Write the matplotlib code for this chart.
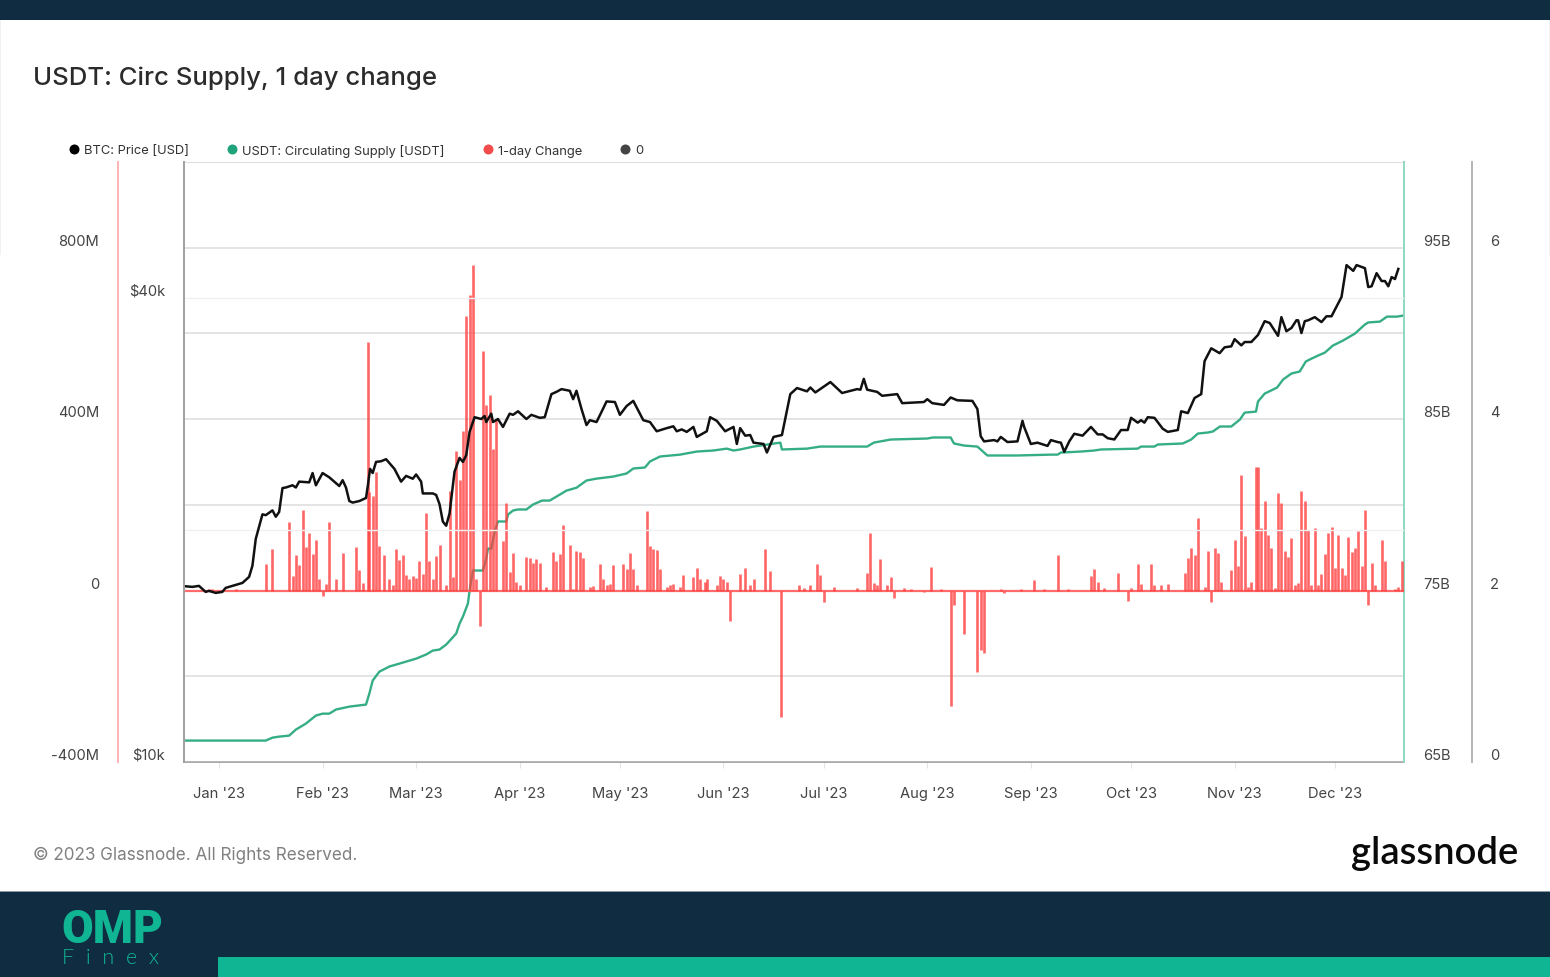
import matplotlib
matplotlib.use('Agg')
import matplotlib.pyplot as plt
from matplotlib.lines import Line2D
from matplotlib.patches import Rectangle
import numpy as np

W, H = 1550, 978

# all days are counted from 1 Jan 2023
month_days = [0, 31, 59, 90, 120, 151, 181, 212, 243, 273, 304, 334]
month_labels = ["Jan '23", "Feb '23", "Mar '23", "Apr '23", "May '23", "Jun '23",
                "Jul '23", "Aug '23", "Sep '23", "Oct '23", "Nov '23", "Dec '23"]

# BTC price, thousands of USD
btc_days = [-10, -8, -6, -4, -3, -1, 1, 2, 4, 7, 9, 10, 11, 13, 14, 16, 17, 18, 19, 20, 22, 23, 24, 27, 28, 29, 31, 33, 36, 37,
            38, 39, 40, 42, 44, 44.6, 45.2, 46, 47, 48.5, 50, 52.5, 54.5, 56, 58, 59, 60.5, 61, 64, 65, 66, 67, 68, 69, 70.5, 72, 73, 74, 75, 76.5,
            78.5, 79.5, 80, 81.5, 82, 83.5, 85, 87, 88, 89.5, 92, 93.5, 96, 97.5, 99.5, 101, 102.5, 105, 106, 107, 108.5, 110, 111, 113, 114.5, 116, 118.5, 120, 122, 124,
            127, 129, 131, 134, 136, 137, 138.5, 140, 142, 143, 146, 147, 149, 151.5, 154, 155, 156, 157.5, 159, 160, 163, 164, 166, 168.5, 171, 173, 176, 177, 178.5, 183,
            186.5, 191, 192, 193, 194, 197, 198.5, 203, 204.5, 211, 212, 213.5, 217, 219, 221, 225.5, 227, 228, 229, 232, 233, 234, 236, 239, 240.5, 241, 243, 245, 248, 249,
            251, 252, 253, 254.5, 256, 258.5, 261, 263, 264.5, 266, 268, 270, 272, 273, 275, 276, 277, 278, 280, 282.5, 284, 287, 288, 290, 292, 294, 295, 297, 299.5, 301,
            303, 304, 306, 307, 309, 311, 313, 314.5, 317, 318, 319.5, 321, 322.5, 323, 324, 325, 326, 328, 330, 331.5, 333, 336, 337.5, 339.5, 340.5, 343, 344, 345, 346.5, 348,
            349, 350, 351, 352, 353]
btc_price = [16.9, 16.87, 16.92, 16.62, 16.67, 16.57, 16.62, 16.82, 16.92, 17.07, 17.38, 17.97, 19.47, 20.95, 20.9, 21.2, 20.8, 21.1, 22.66, 22.7, 22.85, 22.7, 23.1, 23.05, 23.7, 22.85, 23.7, 23.4, 22.8, 23.2,
             22.7, 21.8, 21.7, 21.8, 22.0, 22.9, 24.0, 23.7, 24.5, 24.55, 24.7, 24.0, 23.1, 23.5, 23.3, 23.6, 23.1, 22.3, 22.3, 22.2, 21.6, 20.5, 20.25, 21.0, 23.8, 24.8, 24.5, 25.0, 26.8, 28.0,
             27.85, 28.1, 27.6, 28.3, 27.6, 27.85, 27.2, 28.3, 28.2, 28.5, 27.85, 28.2, 27.95, 28.0, 30.0, 30.2, 30.45, 30.3, 29.55, 30.3, 28.7, 27.35, 27.75, 27.6, 28.45, 29.35, 29.3, 28.2, 28.95, 29.4,
             27.75, 27.6, 26.85, 27.1, 27.25, 26.85, 27.0, 26.8, 27.2, 26.4, 26.85, 28.0, 27.7, 26.85, 27.2, 25.85, 27.1, 26.5, 26.55, 25.95, 25.85, 25.2, 26.4, 26.55, 30.0, 30.55, 30.25, 30.6, 30.15, 31.1,
             30.1, 30.45, 30.4, 31.4, 30.4, 30.2, 29.85, 30.0, 29.2, 29.3, 29.55, 29.2, 29.05, 29.7, 29.45, 29.4, 28.7, 26.45, 26.05, 26.15, 26.05, 26.4, 26.0, 26.05, 27.7, 27.2, 25.85, 25.95, 25.7, 26.15,
             26.0, 25.95, 25.25, 26.05, 26.65, 26.5, 27.2, 26.6, 26.6, 26.3, 26.2, 26.95, 26.95, 27.95, 27.55, 27.75, 27.55, 28.0, 27.95, 27.05, 26.8, 26.95, 28.5, 28.35, 29.65, 30.0, 33.1, 34.4, 33.9, 34.5,
             34.6, 35.35, 34.7, 35.05, 35.05, 35.8, 37.3, 37.1, 35.7, 37.75, 36.2, 36.55, 37.4, 37.4, 36.0, 37.3, 37.4, 37.75, 37.2, 37.85, 37.85, 40.1, 44.1, 43.35, 44.1, 43.7, 41.3, 41.4, 43.05, 42.05,
             42.05, 41.4, 42.55, 42.3, 43.6]

# USDT circulating supply, billions
usdt_days = [-10.5, 14, 16, 18, 21, 23, 26, 29, 31, 33, 35, 39, 44, 45, 46, 48, 51, 54, 59, 62, 64, 66, 68, 71, 72, 73, 74.5, 75, 76, 79,
             80, 80.5, 81.5, 82.6, 83.5, 86, 86.5, 88, 89.5, 92, 94, 96.7, 99, 101.5, 104, 107, 110, 113, 118, 122, 124, 127.5, 129, 132, 138, 143, 148, 152, 154, 156,
             160, 168, 168.5, 176, 180, 194, 196, 201, 212, 213.7, 219, 220, 223, 227, 230, 239, 249, 251, 252, 258, 262, 264, 275, 276, 280, 281, 288.5, 291, 293, 296,
             297.5, 299.6, 303, 305.6, 307, 310.4, 311, 313, 316.7, 318.5, 321, 323.5, 325.3, 327, 329, 331, 333.4, 336.4, 340, 343, 344, 347.5, 349.6, 352.6, 354.4]
usdt_supply = [66.25, 66.25, 66.42, 66.48, 66.54, 66.89, 67.24, 67.71, 67.82, 67.82, 68.06, 68.23, 68.35, 68.99, 69.75, 70.27, 70.57, 70.74, 71.03, 71.27, 71.5, 71.56, 71.85, 72.49, 73.07, 73.48, 74.24, 75.0, 76.17, 76.17,
               76.87, 77.45, 77.45, 78.5, 79.03, 79.03, 79.43, 79.67, 79.73, 79.73, 80.02, 80.25, 80.25, 80.54, 80.83, 81.0, 81.42, 81.53, 81.65, 81.83, 82.12, 82.18, 82.53, 82.82, 82.93, 83.11, 83.17, 83.28, 83.17, 83.23,
               83.4, 83.63, 83.23, 83.28, 83.4, 83.4, 83.63, 83.81, 83.87, 83.93, 83.93, 83.58, 83.46, 83.4, 82.88, 82.88, 82.93, 82.93, 83.05, 83.11, 83.17, 83.23, 83.28, 83.4, 83.4, 83.52, 83.58, 83.81, 84.16, 84.22,
               84.28, 84.57, 84.57, 84.98, 85.38, 85.44, 86.03, 86.49, 86.84, 87.31, 87.66, 87.78, 88.36, 88.53, 88.71, 88.88, 89.29, 89.58, 89.99, 90.52, 90.64, 90.69, 90.98, 90.98, 91.04]

# 1-day change, millions
change_days = [-3, -2, 5, 14, 16, 21, 22, 23, 24, 25, 26, 27, 28, 29, 30, 31, 32, 33, 35, 37, 41, 42, 43, 44.5, 45, 46, 47, 48, 49.5, 51,
               52, 53, 54, 55, 56, 57, 58, 59, 60, 61, 62, 63, 64, 65, 66, 68, 69, 70, 71, 72, 73, 74, 75, 76, 77, 78, 79, 80, 81, 82,
               83, 85, 86, 87, 88, 89, 90, 92, 93, 94, 95, 96, 98, 100, 101, 102, 103, 105, 106, 107, 108, 109, 111, 112, 114, 115, 116, 117, 118, 121,
               122, 123, 124, 125, 128, 129, 130, 131, 132, 134, 135, 136, 138, 139, 142, 143, 144, 145.4, 146, 149, 150, 151, 152, 153, 156, 157.4, 159, 160, 163.4, 165,
               168.3, 173.7, 175, 177, 179, 180, 181, 184, 191, 194, 195, 196, 197, 198, 200, 201, 202, 205, 207, 211, 213, 216, 219, 220, 223, 227, 228, 229, 234, 235,
               240, 244, 247, 251, 254, 261, 262, 263, 265, 269, 272, 273, 275, 276, 279, 280, 282, 284, 289, 290, 291, 292, 293, 295, 296, 297, 298, 299, 300, 303,
               304, 305, 306, 307, 308, 309, 310.5, 311, 312, 313, 314, 315, 316, 317, 318, 319, 320, 321, 322, 323, 324, 325, 326, 327, 328, 329, 330, 331, 332, 333,
               334, 335, 336, 337, 338, 339, 340, 341, 342, 343, 344, 345, 346, 348, 349, 352, 353, 354]
change_vals = [4, 4, 4, 62, 96, 159, 35, 82, 60, 189, 101, 135, 86, 117, 27, -12, 16, 159, 26, 88, 101, 49, 17, 579, 231, 220, 276, 103, 82, 27,
               14, 97, 72, 83, 37, 27, 35, 29, 70, 39, 181, 68, 26, 81, 107, 14, 232, 32, 325, 258, 372, 640, 689, 759, 27, -82, 558, 434, 456, 330,
               400, 115, 205, 44, 87, 21, 12, 78, 75, 64, 74, 64, 9, 89, 68, 86, 152, 107, 3, 93, 91, 75, 9, 11, 63, 26, 12, 16, 60, 61,
               50, 87, 50, 12, 186, 104, 98, 94, 51, 8, 12, 16, 8, 37, 31, 53, 26, 19, 26, 12, 33, 27, 19, -72, 39, 53, 13, 26, 96, 45,
               -296, 14, 5, 14, 62, 37, -26, 8, 5, 41, 135, 18, 12, 74, 13, 31, -17, 5, 4, -4, 56, 4, -270, -33, -101, -191, -138, -145, 4, -5,
               4, 25, 4, 84, 4, 35, 51, 19, 5, 41, -25, 5, 61, 16, 61, 14, 12, 16, 40, 76, 99, 82, 170, 8, 93, -27, 100, 88, 19, 49,
               118, 58, 270, 128, 8, 19, 288, 288, 146, 210, 130, 99, 6, 227, 204, 92, 78, 123, 12, 18, 232, 210, 142, 12, 146, 12, 39, 86, 135, 149,
               52, 130, 52, 37, 124, 89, 100, 140, 58, 189, -33, 65, 13, 118, 70, 4, 9, 68]

price_ticks = [10000, 20000, 40000]
price_labels = ['$10k', '', '$40k']
change_ticks = [-400, 0, 400, 800]
change_labels = ['-400M', '0', '400M', '800M']
supply_ticks = [65, 75, 85, 95]
supply_labels = ['65B', '75B', '85B', '95B']
zero_ticks = [0, 1, 2, 3, 4, 5, 6]
zero_labels = ['0', '', '2', '', '4', '', '6']

legend_names = ['BTC: Price [USD]', 'USDT: Circulating Supply [USDT]', '1-day Change', '0']
legend_colors = ['#000000', '#1fa37c', '#f24c4c', '#444444']

NAVY = '#0f2c41'
TEAL = '#10b693'
TEXT = '#444444'

plt.rcParams['font.family'] = ['Inter', 'DejaVu Sans']

fig = plt.figure(figsize=(W / 100, H / 100), dpi=100, facecolor='white')


def fx(x):
    return x / W


def fy(y):
    return 1 - y / H


def band(x0, y0, x1, y1, color):
    fig.add_artist(Rectangle((fx(x0), fy(y1)), (x1 - x0) / W, (y1 - y0) / H,
                             transform=fig.transFigure, color=color, lw=0))


# page furniture
band(0, 0, W, 21, NAVY)
band(0, 892, W, 893, '#8a99a3')
band(0, 893, W, 978, NAVY)
band(218, 958, W, 978, TEAL)
band(0, 21, 1, 256, '#f1f1f1')
band(W - 1, 21, W, 256, '#f1f1f1')

rect = [184 / W, 1 - 763 / H, 1220 / W, 600 / H]
ax_zero = fig.add_axes(rect, zorder=1)
ax_supply = fig.add_axes(rect, zorder=2, sharex=ax_zero)
ax_change = fig.add_axes(rect, zorder=3, sharex=ax_zero)
ax_price = fig.add_axes(rect, zorder=4, sharex=ax_zero)

for ax in (ax_zero, ax_supply, ax_change, ax_price):
    ax.patch.set_visible(False)
    for side in ax.spines:
        ax.spines[side].set_visible(False)

ax_supply.plot(usdt_days, usdt_supply, color='#35ad87', lw=1.7, solid_joinstyle='round')
ax_change.axhline(0, color='#ff6a6a', lw=1.6)
ax_change.vlines(change_days, 0, change_vals, color='#ff4040', alpha=0.8, lw=1.9)
ax_price.plot(btc_days, np.array(btc_price) * 1000, color='#111111', lw=1.8, solid_joinstyle='round')

ax_zero.set_xlim(-10.48, 354.7)
ax_zero.set_ylim(0, 7)
ax_supply.set_ylim(65, 100)
ax_change.set_ylim(-400, 1000)
ax_price.set_yscale('log')
ax_price.set_ylim(10000, 60000)

ax_zero.set_xticks(month_days)
ax_zero.set_xticklabels(month_labels)
ax_zero.tick_params(axis='x', length=4, color='#e4e4e4', pad=13.5, labelsize=10.6, labelcolor=TEXT)
for ax in (ax_supply, ax_change, ax_price):
    ax.tick_params(axis='x', bottom=False, labelbottom=False)

# right axes
ax_zero.yaxis.tick_right()
ax_zero.set_yticks(zero_ticks)
ax_zero.set_yticklabels(zero_labels)
ax_zero.grid(axis='y', color='#dddddd', lw=1.1)
ax_zero.spines['right'].set_visible(True)
ax_zero.spines['right'].set_position(('outward', 68 * 0.72))
ax_zero.spines['right'].set_color('#b5b5b5')
ax_zero.spines['right'].set_linewidth(1.4)
ax_zero.spines['top'].set_visible(True)
ax_zero.spines['top'].set_color('#dddddd')
ax_zero.spines['bottom'].set_visible(True)
ax_zero.spines['bottom'].set_color('#a8a8a8')
ax_zero.spines['bottom'].set_linewidth(1.4)
ax_zero.tick_params(axis='y', length=0, pad=13, labelsize=10.6, labelcolor=TEXT)

ax_supply.yaxis.tick_right()
ax_supply.set_yticks(supply_ticks)
ax_supply.set_yticklabels(supply_labels)
ax_supply.spines['right'].set_visible(True)
ax_supply.spines['right'].set_color('#8fd8c0')
ax_supply.spines['right'].set_linewidth(1.4)
ax_supply.tick_params(axis='y', length=0, pad=14, labelsize=10.6, labelcolor=TEXT)

# left axes
ax_change.set_yticks(change_ticks)
ax_change.set_yticklabels(change_labels)
ax_change.spines['left'].set_visible(True)
ax_change.spines['left'].set_position(('outward', 66 * 0.72))
ax_change.spines['left'].set_color('#ffb3b3')
ax_change.spines['left'].set_linewidth(1.4)
ax_change.tick_params(axis='y', length=0, pad=13.5, labelsize=10.6, labelcolor=TEXT)

ax_price.set_yticks(price_ticks)
ax_price.set_yticklabels(price_labels)
ax_price.minorticks_off()
ax_price.grid(axis='y', color='#f1f1f1', lw=1.0)
ax_price.spines['left'].set_visible(True)
ax_price.spines['left'].set_color('#a0a0a0')
ax_price.spines['left'].set_linewidth(1.4)
ax_price.tick_params(axis='y', length=0, pad=13.5, labelsize=10.6, labelcolor=TEXT)

# y labels sit just above their gridlines
for ax in (ax_zero, ax_supply, ax_change, ax_price):
    for lab in ax.get_yticklabels():
        lab.set_verticalalignment('bottom')

handles = [Line2D([], [], ls='none', marker='o', ms=7.2, mec='none', mfc=c) for c in legend_colors]
fig.legend(handles, legend_names, loc='center left', bbox_to_anchor=(fx(68), fy(151)), ncols=4,
           frameon=False, fontsize=9.3, labelcolor='#333333', handlelength=1.0, handletextpad=0.25,
           columnspacing=2.85, borderpad=0, borderaxespad=0)

fig.text(fx(33), fy(78), 'USDT: Circ Supply, 1 day change', fontsize=18.5, fontweight=500,
         color='#2b2b2b', va='center', ha='left')
fig.text(fx(33), fy(855), '\u00a9 2023 Glassnode. All Rights Reserved.', fontsize=12.3,
         color='#808080', va='center', ha='left')
fig.text(fx(1518), fy(864), 'glassnode', fontsize=27.5, fontweight=600, color='#0a0a0a',
         va='baseline', ha='right', family=['Lato', 'DejaVu Sans'])
fig.text(fx(61), fy(943), 'OMP', fontsize=33, fontweight=900, color=TEAL,
         va='baseline', ha='left', family=['Roboto', 'DejaVu Sans'])
fig.text(fx(62), fy(964), 'F  i  n  e  x', fontsize=15.5, fontweight=300, color=TEAL,
         va='baseline', ha='left', family=['Lato', 'DejaVu Sans'])

fig.savefig('out.png', dpi=100)
